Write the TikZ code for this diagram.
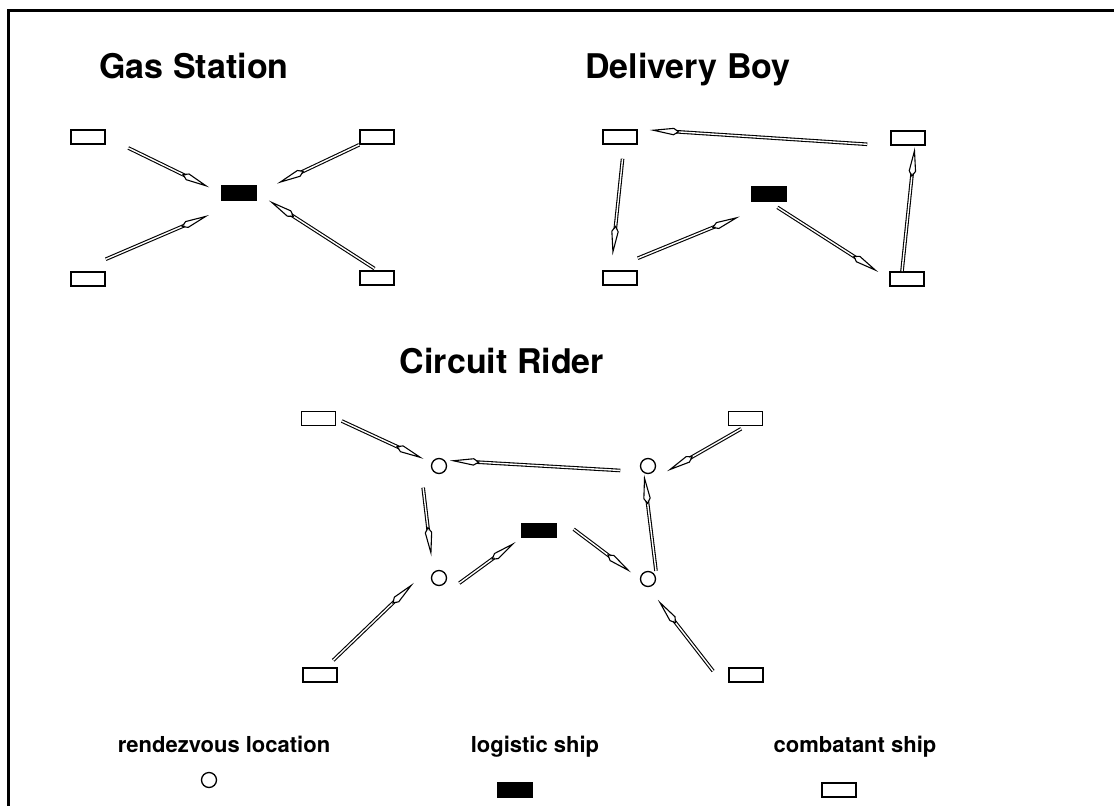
\documentclass[tikz,border=0pt]{standalone}
\usepackage{fontspec}
\setmainfont{TeX Gyre Heros}
\usetikzlibrary{arrows.meta}

\begin{document}
\begin{tikzpicture}[
  x=1pt, y=-1pt,
  ship/.style={draw, line width=1.6pt, minimum width=34pt, minimum height=14pt, inner sep=0pt},
  tanker/.style={fill=black, minimum width=36pt, minimum height=15.5pt, inner sep=0pt},
  meet/.style={circle, draw, line width=1.3pt, minimum size=15pt, inner sep=0pt},
  heading/.style={font=\fontsize{34}{38}\selectfont\bfseries, anchor=base},
  key/.style={font=\fontsize{22}{24}\selectfont\bfseries, anchor=base},
  arr/.style={double, line width=1.1pt, double distance=1.4pt, -{Kite[open, length=30pt, width=7.5pt, inset=6pt]}}
]
\clip (0,0) rectangle (1114,806);
\draw[line width=3pt] (8.5,830) |- (1130,10);

\node[heading] (tgas) at (194,78) {Gas Station};
\node[ship] (g1) at (88,137) {};
\node[ship] (g2) at (377,137) {};
\node[ship] (g3) at (88,279) {};
\node[ship] (g4) at (377,278) {};
\node[tanker] (gl) at (239,193) {};
\draw[arr, shorten <=25pt, shorten >=13pt] (g1.east) -- (gl.west);
\draw[arr, shorten >=22pt] (g2.south west) -- (gl.east);
\draw[arr, shorten >=13pt] ([yshift=12pt]g3.north east) -- ([yshift=-9pt]gl.south west);
\draw[arr, shorten <=3pt, shorten >=14pt] (g4.north) -- (gl.east);

\node[heading] (tdel) at (688,78) {Delivery Boy};
\node[ship] (d1) at (620,137) {};
\node[ship] (d2) at (908,138) {};
\node[ship] (d3) at (620,278) {};
\node[ship] (d4) at (907,279) {};
\node[tanker] (dl) at (769,194) {};
\draw[arr, shorten <=23pt, shorten >=12pt] (d2.south west) -- (d1.north east);
\draw[arr, shorten <=14pt, shorten >=15pt] ([xshift=4pt]d1.south) -- ([xshift=-9pt]d3.north);
\draw[arr, shorten >=12pt] ([yshift=12pt]d3.north east) -- ([yshift=-10pt]dl.south west);
\draw[arr, shorten <=10pt, shorten >=13pt] (dl.south) -- (d4.west);
\draw[arr, shorten >=1.5pt] ([xshift=-5pt]d4.north) -- ([xshift=7pt]d2.south);

\node[heading] (tcir) at (502,373) {Circuit Rider};
\node[ship] (c1) at (318.5,418.5) {};
\node[ship] (c2) at (745.5,418.5) {};
\node[ship] (c3) at (320,675) {};
\node[ship] (c4) at (746,675) {};
\node[meet] (r1) at (439,466) {};
\node[meet] (r2) at (648,466) {};
\node[meet] (r3) at (439,578) {};
\node[meet] (r4) at (648,579) {};
\node[tanker] (cl) at (538.7,530.5) {};
\draw[arr, shorten <=6pt, shorten >=9pt] (c1.east) -- (r1);
\draw[arr, shorten <=22pt, shorten >=5pt] (r2.south west) -- (r1.north east);
\draw[arr, shorten <=5pt, shorten >=22pt] (c2.south) -- ([yshift=-8pt]r2.south);
\draw[arr, shorten <=16pt, shorten >=16pt] ([xshift=-12pt]r1.south west) -- (r3.north west);
\draw[arr, shorten >=0.5pt] ([xshift=8pt]r4.north) -- ([xshift=-4pt]r2.south);
\draw[arr, shorten <=18pt, shorten >=6pt] ([yshift=-10pt]r3.south east) -- (cl.south west);
\draw[arr, shorten <=21pt, shorten >=11pt] ([yshift=6pt]cl.north east) -- (r4.west);
\draw[arr, shorten <=10pt, shorten >=27pt] ([xshift=6pt]c3.north) -- ([yshift=8pt]r3.north west);
\draw[arr, shorten <=5pt, shorten >=16pt] ([xshift=-12pt]c4.west) -- (r4.south);

\node[key] (kr) at (224,752) {rendezvous location};
\node[key] (kl) at (535,752) {logistic ship};
\node[key] (kc) at (855,752) {combatant ship};
\node[meet] (sr) at (209,780) {};
\node[tanker] (sl) at (515,790) {};
\node[ship] (sc) at (839,790) {};
\end{tikzpicture}
\end{document}
